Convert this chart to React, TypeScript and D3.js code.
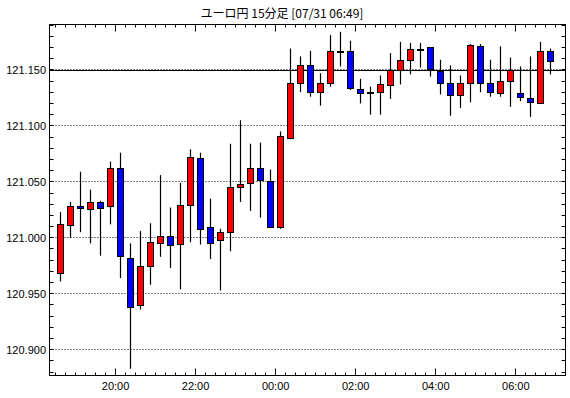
import React from "react";
import * as d3 from "d3";

const title = "ユーロ円 15分足 [07/31 06:49]";

const times = [
  "18:30", "18:45", "19:00", "19:15", "19:30", "19:45", "20:00", "20:15", "20:30", "20:45",
  "21:00", "21:15", "21:30", "21:45", "22:00", "22:15", "22:30", "22:45", "23:00", "23:15",
  "23:30", "23:45", "00:00", "00:15", "00:30", "00:45", "01:00", "01:15", "01:30", "01:45",
  "02:00", "02:15", "02:30", "02:45", "03:00", "03:15", "03:30", "03:45", "04:00", "04:15",
  "04:30", "04:45", "05:00", "05:15", "05:30", "05:45", "06:00", "06:15", "06:30", "06:45",
];

const open = [
  120.968, 121.011, 121.028, 121.026, 121.032, 121.028, 121.062, 120.982, 120.940, 120.975,
  120.996, 121.002, 120.994, 121.029, 121.071, 121.010, 120.998, 121.005, 121.045, 121.049,
  121.062, 121.051, 121.010, 121.089, 121.138, 121.154, 121.130, 121.138, 121.167, 121.167,
  121.133, 121.130, 121.130, 121.137, 121.150, 121.159, 121.169, 121.170, 121.149, 121.138,
  121.127, 121.138, 121.171, 121.138, 121.129, 121.140, 121.129, 121.125, 121.121, 121.167,
];
const high = [
  121.023, 121.032, 121.059, 121.043, 121.033, 121.068, 121.076, 120.995, 121.006, 121.013,
  121.056, 121.027, 121.049, 121.079, 121.076, 121.035, 121.008, 121.084, 121.105, 121.084,
  121.085, 121.061, 121.095, 121.169, 121.162, 121.167, 121.147, 121.181, 121.184, 121.176,
  121.142, 121.135, 121.145, 121.165, 121.175, 121.174, 121.174, 121.170, 121.159, 121.154,
  121.145, 121.173, 121.173, 121.159, 121.171, 121.161, 121.153, 121.162, 121.175, 121.169,
];
const low = [
  120.961, 121.000, 121.005, 120.995, 120.984, 121.012, 120.964, 120.883, 120.936, 120.958,
  120.983, 120.973, 120.954, 120.996, 120.994, 120.981, 120.953, 120.988, 121.032, 121.024,
  121.018, 121.009, 121.008, 121.088, 121.130, 121.126, 121.118, 121.135, 121.153, 121.132,
  121.120, 121.110, 121.110, 121.124, 121.137, 121.146, 121.152, 121.144, 121.128, 121.109,
  121.116, 121.121, 121.130, 121.126, 121.126, 121.117, 121.122, 121.108, 121.120, 121.146,
];
const close = [
  121.012, 121.028, 121.026, 121.032, 121.027, 121.062, 120.983, 120.938, 120.975, 120.996,
  121.002, 120.994, 121.029, 121.072, 121.008, 120.996, 121.005, 121.045, 121.048, 121.062,
  121.051, 121.010, 121.091, 121.138, 121.154, 121.130, 121.138, 121.167, 121.167, 121.134,
  121.129, 121.130, 121.137, 121.150, 121.159, 121.169, 121.168, 121.150, 121.138, 121.127,
  121.138, 121.172, 121.138, 121.130, 121.140, 121.150, 121.125, 121.121, 121.167, 121.158,
];

const yLabels = ["120.900", "120.950", "121.000", "121.050", "121.100", "121.150"];
const xLabels = ["20:00", "22:00", "00:00", "02:00", "04:00", "06:00"];
const currentLine = 121.15;

const W = 570;
const H = 398;
const L = 49.5, R = 565.5, T = 24.5, B = 375.5;

function toDate(hm: string): Date {
  const [h, m] = hm.split(":").map(Number);
  const day = h >= 12 ? 30 : 31;
  return new Date(2018, 6, day, h, m, 0);
}

export default function App() {
  const x = d3
    .scaleTime()
    .domain([new Date(2018, 6, 30, 18, 21, 0), new Date(2018, 6, 31, 7, 14, 30)])
    .range([L, R]);
  const y = d3.scaleLinear().domain([120.877, 121.1905]).range([B, T]);

  const candles = times.map((t, i) => ({
    t: toDate(t),
    o: open[i],
    h: high[i],
    l: low[i],
    c: close[i],
  }));

  const minorX = d3.timeMinute.every(15)!.range(x.domain()[0], x.domain()[1]);
  const majorX = xLabels.map(toDate);
  const minorY = d3.range(120.88, 121.1901, 0.01);

  const font = "'Liberation Sans', Arial, sans-serif";
  const snap = (v: number) => Math.round(v - 0.5) + 0.5;

  return (
    <svg width={W} height={H} style={{ display: "block", position: "absolute", left: 0, top: 0 }}>
      <rect x={0} y={0} width={W} height={H} fill="#fff" />
      <text x={282} y={18} textAnchor="middle" fontSize={12} fontFamily="'Noto Sans CJK JP', sans-serif" fill="#000">
        {title}
      </text>

      {/* gridlines */}
      {yLabels.map((lab) => {
        const yy = snap(y(+lab));
        return (
          <line key={"g" + lab} x1={L} x2={R} y1={yy} y2={yy} stroke="#000" strokeWidth={1} strokeDasharray="1,2" />
        );
      })}
      <line x1={L} x2={R} y1={snap(y(currentLine)) + 1} y2={snap(y(currentLine)) + 1} stroke="#000" strokeWidth={1} />

      {/* y ticks */}
      {minorY.map((v, i) => {
        const yy = snap(y(v));
        return (
          <g key={"yt" + i}>
            <line x1={L} x2={L + 4} y1={yy} y2={yy} stroke="#000" />
            <line x1={R} x2={R - 4} y1={yy} y2={yy} stroke="#000" />
          </g>
        );
      })}
      {yLabels.map((lab) => (
        <text key={"yl" + lab} x={46} y={y(+lab) + 4} textAnchor="end" fontSize={11} fontFamily={font} fill="#000">
          {lab}
        </text>
      ))}

      {/* x ticks */}
      {minorX.map((d, i) => {
        const xx = snap(x(d));
        const major = majorX.some((m) => m.getTime() === d.getTime());
        const len = major ? 7 : 3;
        return (
          <g key={"xt" + i}>
            <line x1={xx} x2={xx} y1={B} y2={B - len} stroke="#000" />
            <line x1={xx} x2={xx} y1={T} y2={T + len} stroke="#000" />
          </g>
        );
      })}
      {xLabels.map((lab, i) => (
        <text key={"xl" + lab} x={x(majorX[i])} y={390} textAnchor="middle" fontSize={11} fontFamily={font} fill="#000">
          {lab}
        </text>
      ))}

      {/* candles */}
      {candles.map((d, i) => {
        const cx = snap(x(new Date(d.t.getTime() + 7.5 * 60000)));
        const up = d.c >= d.o;
        const top = y(Math.max(d.o, d.c));
        const bot = y(Math.min(d.o, d.c));
        const yt = Math.round(top) + 0.5;
        const hgt = Math.max(1, Math.round(bot - top));
        return (
          <g key={"c" + i}>
            <line x1={cx} x2={cx} y1={y(d.h)} y2={y(d.l)} stroke="#000" strokeWidth={1.2} />
            <rect x={cx - 3} y={yt} width={6} height={hgt} fill={up ? "#ff0000" : "#0000ff"} stroke="#000" strokeWidth={1} />
          </g>
        );
      })}

      {/* frame */}
      <rect x={L} y={T} width={R - L} height={B - T} fill="none" stroke="#000" strokeWidth={1} />
    </svg>
  );
}
